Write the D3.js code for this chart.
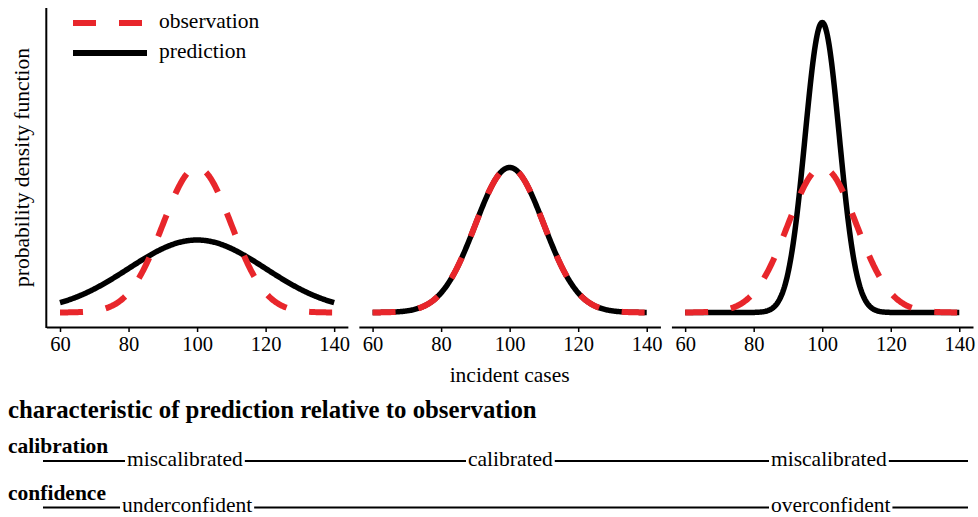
<!DOCTYPE html>
<html>
<head>
<meta charset="utf-8">
<script src="https://cdn.jsdelivr.net/npm/d3@7"></script>
<style>
  html, body { margin: 0; padding: 0; background: #fff; }
  svg { display: block; font-family: "Liberation Serif", "Times New Roman", serif; }
</style>
</head>
<body>
<svg id="chart" width="978" height="517"></svg>
<script>
// ---- data -------------------------------------------------------------
// Each panel compares a normal observation density with a normal prediction density.
const xTicks = [60, 80, 100, 120, 140];
const xRange = [60, 140];
const obsMean = [100, 100, 100];
const obsSd = [10, 10, 10];
const predMean = [100, 100, 100];
const predSd = [20, 10, 5];
const legendLabels = ["observation", "prediction"];
const calibrationLabels = ["miscalibrated", "calibrated", "miscalibrated"];
const confidenceLabels = ["underconfident", "", "overconfident"];

// ---- layout -----------------------------------------------------------
const FONT = "Liberation Serif, Times New Roman, serif";
const plotLeft = 46.3, plotRight = 973, panelGap = 11;
const plotTop = 8, plotBottom = 327;
const panelW = (plotRight - plotLeft - 2 * panelGap) / 3;
const RED = "#e8262b";
const FS = 21.5;       // general text
const FS_TICK = 20.5;  // tick labels
const FS_HEAD = 24.8;  // heading of the summary block
const calibrationX = [127, 468, 771];
const confidenceX = [122, null, 771];

const svg = d3.select("#chart");

const normalPdf = (x, m, s) => Math.exp(-0.5 * ((x - m) / s) ** 2) / (s * Math.sqrt(2 * Math.PI));
const samples = d3.range(xRange[0], xRange[1] + 0.001, 0.25);

const yMax = d3.max(predSd.concat(obsSd), s => normalPdf(0, 0, s));
const yPad = yMax * 0.05;
const y = d3.scaleLinear().domain([-yPad, yMax + yPad]).range([plotBottom, plotTop]);

for (let p = 0; p < 3; p++) {
  const left = plotLeft + p * (panelW + panelGap);
  const xPad = (xRange[1] - xRange[0]) * 0.05;
  const x = d3.scaleLinear().domain([xRange[0] - xPad, xRange[1] + xPad]).range([left, left + panelW]);
  const g = svg.append("g");

  const line = d3.line().x(d => x(d[0])).y(d => y(d[1]));

  // prediction (solid black) underneath, observation (dashed red) on top
  g.append("path")
    .datum(samples.map(v => [v, normalPdf(v, predMean[p], predSd[p])]))
    .attr("d", line)
    .attr("fill", "none").attr("stroke", "#000").attr("stroke-width", 5.5)
    .attr("stroke-linejoin", "round");
  g.append("path")
    .datum(samples.map(v => [v, normalPdf(v, obsMean[p], obsSd[p])]))
    .attr("d", line)
    .attr("fill", "none").attr("stroke", RED).attr("stroke-width", 6)
    .attr("stroke-dasharray", "23 23");

  // x axis
  const ax = g.append("g")
    .attr("transform", `translate(0,${plotBottom})`)
    .call(d3.axisBottom(x).tickValues(xTicks).tickSize(5).tickPadding(4).tickSizeOuter(0));
  ax.attr("font-family", FONT);
  ax.select(".domain").attr("stroke", "#000").attr("stroke-width", 2);
  ax.selectAll(".tick line").attr("stroke", "#000").attr("stroke-width", 1.5);
  ax.selectAll(".tick text")
    .attr("font-family", FONT)
    .attr("font-size", FS_TICK).attr("fill", "#000");

  if (p === 0) {
    svg.append("line")
      .attr("x1", left).attr("x2", left)
      .attr("y1", plotTop).attr("y2", plotBottom + 1)
      .attr("stroke", "#000").attr("stroke-width", 2);
  }
  if (p === 1) {
    svg.append("text")
      .attr("x", (x.range()[0] + x.range()[1]) / 2).attr("y", 382)
      .attr("text-anchor", "middle").attr("font-size", FS).attr("font-family", FONT)
      .text("incident cases");
  }
}

// y axis title
svg.append("text")
  .attr("transform", `translate(29,${(plotTop + plotBottom) / 2}) rotate(-90)`)
  .attr("text-anchor", "middle").attr("font-size", FS).attr("font-family", FONT)
  .text("probability density function");

// legend
const legend = svg.append("g");
legend.append("line")
  .attr("x1", 73).attr("x2", 142).attr("y1", 23).attr("y2", 23)
  .attr("stroke", RED).attr("stroke-width", 6).attr("stroke-dasharray", "23 23");
legend.append("line")
  .attr("x1", 73).attr("x2", 147).attr("y1", 53).attr("y2", 53)
  .attr("stroke", "#000").attr("stroke-width", 6);
legend.selectAll("text.leg").data(legendLabels).join("text")
  .attr("class", "leg")
  .attr("x", 159).attr("y", (d, i) => 28 + i * 30)
  .attr("font-size", FS).attr("font-family", FONT)
  .text(d => d);

// summary rows beneath the panels
svg.append("text")
  .attr("x", 8).attr("y", 418)
  .attr("font-size", FS_HEAD).attr("font-weight", "bold").attr("font-family", FONT)
  .text("characteristic of prediction relative to observation");

function labelRow(title, titleY, labels, xs, lineY, labelY) {
  svg.append("text")
    .attr("x", 8).attr("y", titleY)
    .attr("font-size", FS).attr("font-weight", "bold").attr("font-family", FONT)
    .text(title);
  let cursor = 43;
  labels.forEach((lab, i) => {
    if (!lab) return;
    const t = svg.append("text")
      .attr("x", xs[i]).attr("y", labelY)
      .attr("font-size", FS).attr("font-family", FONT)
      .text(lab);
    const w = t.node().getComputedTextLength();
    svg.append("line")
      .attr("x1", cursor).attr("x2", xs[i] - 2)
      .attr("y1", lineY).attr("y2", lineY)
      .attr("stroke", "#000").attr("stroke-width", 2);
    cursor = xs[i] + w + 2;
  });
  svg.append("line")
    .attr("x1", cursor).attr("x2", 968)
    .attr("y1", lineY).attr("y2", lineY)
    .attr("stroke", "#000").attr("stroke-width", 2);
}
labelRow("calibration", 453, calibrationLabels, calibrationX, 461, 466);
labelRow("confidence", 500, confidenceLabels, confidenceX, 507.5, 511.5);
</script>
</body>
</html>
